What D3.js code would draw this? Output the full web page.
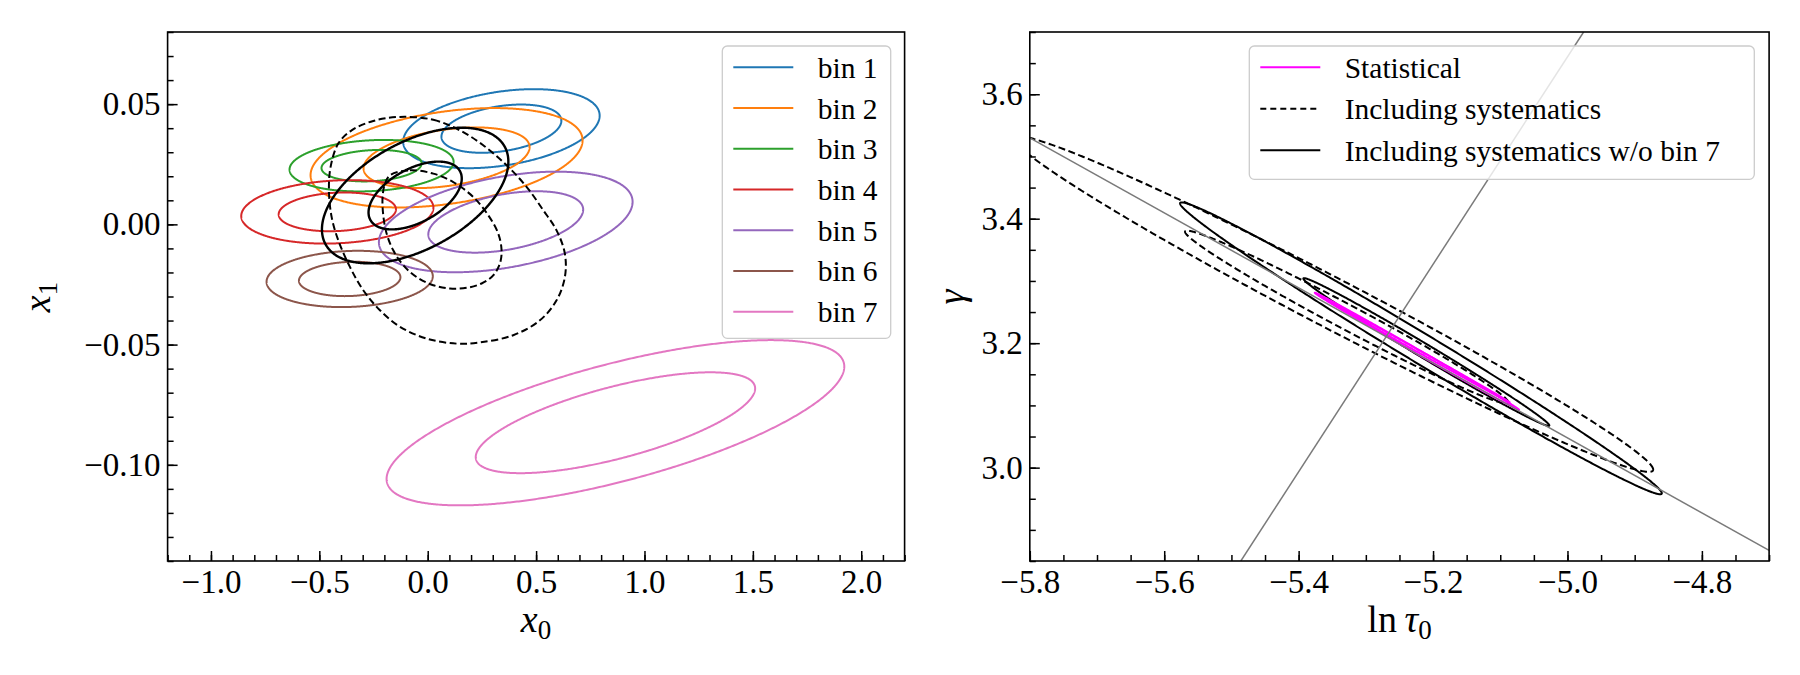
<!DOCTYPE html>
<html>
<head>
<meta charset="utf-8">
<script src="https://cdn.jsdelivr.net/npm/d3@7"></script>
<style>
  body { margin: 0; background: #fff; }
  text { font-family: "Liberation Serif", "DejaVu Serif", serif; fill: #000; }
</style>
</head>
<body>
<script>
// ---------- values ----------

// left panel: per-bin 2D gaussian contours in (x0, x1)
var binLabels  = ["bin 1", "bin 2", "bin 3", "bin 4", "bin 5", "bin 6", "bin 7"];
var binCenters = [[0.34, 0.0398], [0.087, 0.0277], [-0.259, 0.0244], [-0.417, 0.0052],
                  [0.36, 0.001], [-0.36, -0.0227], [0.866, -0.0825]];
var binSigmas  = [[0.182, 0.0066], [0.252, 0.0083], [0.152, 0.0043], [0.178, 0.0053],
                  [0.235, 0.0084], [0.154, 0.0047], [0.424, 0.0138]];
var binRhos    = [0.33, 0.35, 0.15, 0.13, 0.4, 0.1, 0.68];
var binLevels  = [1.52, 2.49];

// combined w/o bin 7 (solid black)
var noBin7Center = [-0.058, 0.012];
var noBin7Sigma  = [0.215, 0.0141];
var noBin7Rho    = 0.5;
var noBin7Levels = [1, 2];

// combined including systematics (dashed black), traced outlines
var sysOuterLeft = [[-0.128, 0.0447], [0.0255, 0.0435], [0.1485, 0.0391], [0.2561, 0.0329],
  [0.3638, 0.0246], [0.456, 0.0156], [0.5329, 0.0059], [0.5944, -0.0025], [0.6328, -0.0122],
  [0.6328, -0.0219], [0.5944, -0.0316], [0.5175, -0.0399], [0.3945, -0.0461], [0.2408, -0.0491],
  [0.1332, -0.0496], [-0.0052, -0.0475], [-0.128, -0.0426], [-0.2205, -0.0357], [-0.2974, -0.0274],
  [-0.3589, -0.0177], [-0.4127, -0.0066], [-0.4434, 0.0031], [-0.4557, 0.0142], [-0.448, 0.0239],
  [-0.4127, 0.0336], [-0.3512, 0.0391], [-0.2513, 0.043]];
var sysInnerLeft = [[-0.1744, 0.0204], [-0.0821, 0.0225], [0.0255, 0.0211], [0.1178, 0.0176],
  [0.21, 0.0114], [0.2792, 0.0038], [0.3253, -0.0038], [0.3407, -0.0108], [0.333, -0.0163],
  [0.3023, -0.0212], [0.2485, -0.0246], [0.1793, -0.0264], [0.1024, -0.0267], [0.0255, -0.0253],
  [-0.0513, -0.0219], [-0.1129, -0.017], [-0.159, -0.0108], [-0.1897, -0.0038], [-0.2051, 0.0038],
  [-0.2082, 0.0114], [-0.1974, 0.0169]];

// right panel contours: [ln tau0 centre, gamma centre, half-width, half-height, correlation]
var statContours   = [[-5.228, 3.191, 0.142, 0.086, -0.9997], [-5.224, 3.187, 0.152, 0.0941, -0.9991]];
var sysContours    = [[-5.3285, 3.242, 0.2405, 0.1388, -0.987], [-5.348, 3.263, 0.4755, 0.2698, -0.986]];
var noBin7Contours = [[-5.21, 3.1858, 0.183, 0.1187, -0.994], [-5.218, 3.1917, 0.3584, 0.2345, -0.993]];
var guideLines     = [[[-5.8, 3.530], [-4.7, 2.867]], [[-5.486, 2.85], [-4.976, 3.70]]];

var rightLabels = ["Statistical", "Including systematics", "Including systematics w/o bin 7"];

// ticks
var xTicksL = [-1.0, -0.5, 0.0, 0.5, 1.0, 1.5, 2.0];
var yTicksL = [-0.10, -0.05, 0.00, 0.05];
var xTicksR = [-5.8, -5.6, -5.4, -5.2, -5.0, -4.8];
var yTicksR = [3.0, 3.2, 3.4, 3.6];

// ---------- drawing ----------
var serif = "Liberation Serif, DejaVu Serif, serif";
var binColors = ["#1f77b4", "#ff7f0e", "#2ca02c", "#d62728", "#9467bd", "#8c564b", "#e377c2"];
var dash = "7,3.5";

var svg = d3.select("body").append("svg").attr("width", 1800).attr("height", 675);
var defs = svg.append("defs");

var xL = d3.scaleLinear().domain([-1.2, 2.2]).range([167.6, 904.6]);
var yL = d3.scaleLinear().domain([-0.14, 0.08]).range([561, 32]);
var xR = d3.scaleLinear().domain([-5.8, -4.7]).range([1029.8, 1769.1]);
var yR = d3.scaleLinear().domain([2.85, 3.70]).range([561, 32]);

function addClip(id, xs, ys) {
  defs.append("clipPath").attr("id", id).append("rect")
    .attr("x", xs.range()[0]).attr("y", ys.range()[1])
    .attr("width", xs.range()[1] - xs.range()[0])
    .attr("height", ys.range()[0] - ys.range()[1]);
}
addClip("clipL", xL, yL);
addClip("clipR", xR, yR);

// ellipse outline from [cx, cy, ax, ay, rho]
function ellipsePath(c, xs, ys) {
  var s = Math.sqrt(1 - c[4] * c[4]);
  var pts = d3.range(0, 720).map(function(i) {
    var t = i * Math.PI / 360;
    return [c[0] + c[2] * Math.cos(t), c[1] + c[3] * (c[4] * Math.cos(t) + s * Math.sin(t))];
  });
  return d3.line().x(function(d) { return xs(d[0]); }).y(function(d) { return ys(d[1]); })(pts) + "Z";
}

function drawAxes(xs, ys, xMaj, xMin, yMaj, yMin, xFmt, yFmt) {
  var b = ys.range()[0], l = xs.range()[0];
  var g = svg.append("g");
  function styl(a) {
    a.attr("font-size", 33).attr("font-family", serif);
    a.selectAll(".domain").remove();
    a.selectAll("line").attr("stroke", "#000").attr("stroke-width", 1.5);
    a.selectAll("text").attr("font-family", serif).attr("font-size", 33);
  }
  g.append("g").attr("transform", "translate(0," + b + ")")
    .call(d3.axisBottom(xs).tickValues(xMin).tickSize(-6).tickSizeOuter(0).tickFormat("")).call(styl);
  g.append("g").attr("transform", "translate(0," + b + ")")
    .call(d3.axisBottom(xs).tickValues(xMaj).tickSize(-10).tickSizeOuter(0).tickPadding(9).tickFormat(xFmt)).call(styl);
  g.append("g").attr("transform", "translate(" + l + ",0)")
    .call(d3.axisLeft(ys).tickValues(yMin).tickSize(-6).tickSizeOuter(0).tickFormat("")).call(styl);
  g.append("g").attr("transform", "translate(" + l + ",0)")
    .call(d3.axisLeft(ys).tickValues(yMaj).tickSize(-10).tickSizeOuter(0).tickPadding(7).tickFormat(yFmt)).call(styl);
  g.append("rect")
    .attr("x", l).attr("y", ys.range()[1])
    .attr("width", xs.range()[1] - l).attr("height", b - ys.range()[1])
    .attr("fill", "none").attr("stroke", "#000").attr("stroke-width", 1.6);
}

function minorRange(lo, hi, step) {
  return d3.range(Math.round(lo / step), Math.round(hi / step) + 1).map(function(i) { return +(i * step).toFixed(4); });
}

// ---- left panel ----
var gL = svg.append("g").attr("clip-path", "url(#clipL)");

binLabels.forEach(function(name, i) {
  binLevels.forEach(function(k) {
    var c = [binCenters[i][0], binCenters[i][1], k * binSigmas[i][0], k * binSigmas[i][1], binRhos[i]];
    gL.append("path").attr("d", ellipsePath(c, xL, yL))
      .attr("fill", "none").attr("stroke", binColors[i]).attr("stroke-width", 2);
  });
});

var closedLine = d3.line().curve(d3.curveCatmullRomClosed)
  .x(function(d) { return xL(d[0]); }).y(function(d) { return yL(d[1]); });
[sysInnerLeft, sysOuterLeft].forEach(function(pts) {
  gL.append("path").attr("d", closedLine(pts))
    .attr("fill", "none").attr("stroke", "#000").attr("stroke-width", 2).attr("stroke-dasharray", dash);
});

noBin7Levels.forEach(function(k) {
  var c = [noBin7Center[0], noBin7Center[1], k * noBin7Sigma[0], k * noBin7Sigma[1], noBin7Rho];
  gL.append("path").attr("d", ellipsePath(c, xL, yL))
    .attr("fill", "none").attr("stroke", "#000").attr("stroke-width", 2.4);
});

drawAxes(xL, yL, xTicksL, minorRange(-1.2, 2.2, 0.1), yTicksL, minorRange(-0.14, 0.08, 0.01),
  d3.format(".1f"), d3.format(".2f"));

// ---- right panel ----
var gR = svg.append("g").attr("clip-path", "url(#clipR)");

sysContours.forEach(function(c) {
  gR.append("path").attr("d", ellipsePath(c, xR, yR))
    .attr("fill", "none").attr("stroke", "#000").attr("stroke-width", 2).attr("stroke-dasharray", dash);
});
noBin7Contours.forEach(function(c) {
  gR.append("path").attr("d", ellipsePath(c, xR, yR))
    .attr("fill", "none").attr("stroke", "#000").attr("stroke-width", 2);
});
statContours.forEach(function(c) {
  gR.append("path").attr("d", ellipsePath(c, xR, yR))
    .attr("fill", "none").attr("stroke", "#ff00ff").attr("stroke-width", 2);
});
guideLines.forEach(function(seg) {
  gR.append("line")
    .attr("x1", xR(seg[0][0])).attr("y1", yR(seg[0][1]))
    .attr("x2", xR(seg[1][0])).attr("y2", yR(seg[1][1]))
    .attr("stroke", "#7a7a7a").attr("stroke-width", 1.5);
});

drawAxes(xR, yR, xTicksR, minorRange(-5.8, -4.7, 0.05), yTicksR, minorRange(2.85, 3.70, 0.05),
  d3.format(".1f"), d3.format(".1f"));

// ---- axis labels ----
function mathLabel(x, y, rot, parts) {
  var t = svg.append("text").attr("font-size", 38).attr("font-family", serif).attr("text-anchor", "middle")
    .attr("transform", "translate(" + x + "," + y + ")" + (rot ? " rotate(-90)" : ""));
  parts.forEach(function(p) {
    var s = t.append("tspan").text(p.t);
    if (p.it) s.attr("font-style", "italic");
    if (p.sub) s.attr("font-size", 27).attr("dy", 7);
  });
}
mathLabel(536, 632, false, [{t: "x", it: true}, {t: "0", sub: true}]);
mathLabel(50, 297, true, [{t: "x", it: true}, {t: "1", sub: true}]);
mathLabel(1399.5, 632, false, [{t: "ln\u2009"}, {t: "\u03c4", it: true}, {t: "0", sub: true}]);
mathLabel(964, 297, true, [{t: "\u03b3", it: true}]);

// ---- legends ----
function legend(box, rows, step) {
  var g = svg.append("g");
  g.append("rect").attr("x", box[0]).attr("y", box[1])
    .attr("width", box[2] - box[0]).attr("height", box[3] - box[1]).attr("rx", 5)
    .attr("fill", "#fff").attr("fill-opacity", 0.8)
    .attr("stroke", "#cccccc").attr("stroke-width", 1.3);
  rows.forEach(function(r, i) {
    var y = box[1] + 21.3 + i * step;
    g.append("line").attr("x1", box[0] + 11).attr("x2", box[0] + 71).attr("y1", y).attr("y2", y)
      .attr("stroke", r.color).attr("stroke-width", 2).attr("stroke-dasharray", r.dash || null);
    g.append("text").attr("x", box[0] + 95.4).attr("y", y + 10.5)
      .attr("font-size", 29.5).attr("font-family", serif).text(r.label);
  });
}
legend([722.3, 46, 890.7, 338.3], binLabels.map(function(n, i) { return {label: n, color: binColors[i]}; }), 40.73);
legend([1249.3, 46, 1754.3, 179.3], [
  {label: rightLabels[0], color: "#ff00ff"},
  {label: rightLabels[1], color: "#000", dash: "6,4"},
  {label: rightLabels[2], color: "#000"}
], 41.5);
</script>
</body>
</html>
